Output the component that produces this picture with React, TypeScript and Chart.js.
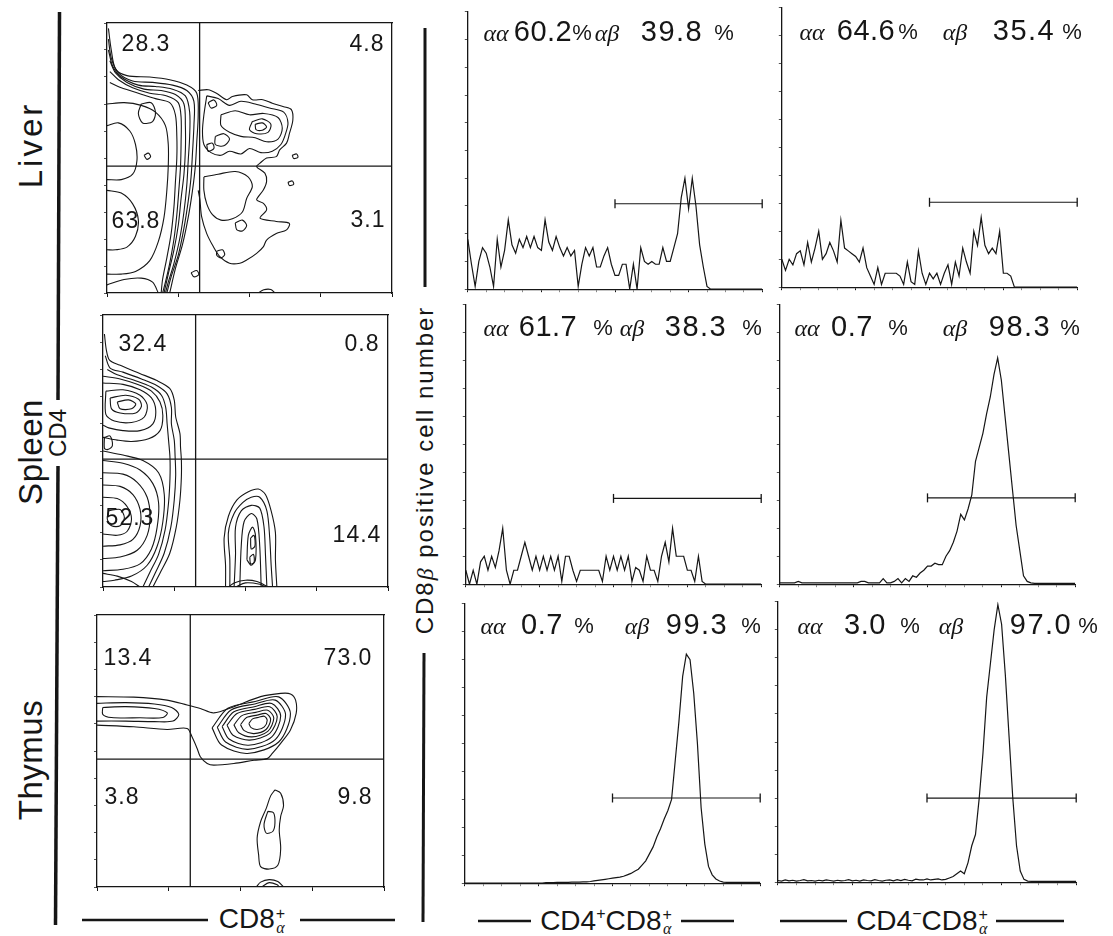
import React, { useEffect, useRef } from "react";
import { Chart, registerables } from "chart.js";

Chart.register(...registerables);

// ---------------- DATA ----------------
// histogram channels (log-decade position of each bin, 0..4)
const channelX: number[] = Array.from({ length: 81 }, (_, i) => Math.round(i * 5) / 100);

const liverCD4posHist = [
  18, 9, 1, 10, 15, 13, 8, 1, 18, 8, 14, 25, 16, 13, 18, 15, 19, 15, 19, 15,
  14, 25, 17, 14, 19, 15, 12, 15, 12, 14, 1, 9, 15, 12, 15, 8, 8, 12, 15, 9,
  5, 5, 9, 9, 0, 9, 0, 15, 10, 9, 10, 9, 9, 15, 10, 10, 15, 20, 33, 40,
  29, 40, 30, 16, 8, 1, 0, 0, 0, 0, 0, 0, 0, 0, 0, 0, 0, 0, 0, 0, 0,
];
const liverCD4negHist = [
  10, 6, 10, 8, 12, 13, 8, 16, 9, 14, 20, 10, 12, 16, 13, 9, 24, 14, 13, 12,
  11, 9, 14, 7, 4, 1, 7, 1, 5, 5, 5, 5, 4, 1, 9, 2, 1, 13, 5, 1,
  5, 3, 5, 1, 5, 8, 1, 9, 4, 14, 9, 5, 20, 15, 25, 15, 12, 14, 12, 20,
  5, 5, 4, 0, 0, 0, 0, 0, 0, 0, 0, 0, 0, 0, 0, 0, 0, 0, 0, 0, 0,
];
const spleenCD4posHist = [
  5, 0, 5, 0, 8, 10, 5, 10, 6, 12, 20, 5, 0, 5, 5, 10, 15, 10, 5, 10,
  5, 10, 5, 10, 5, 10, 1, 10, 10, 5, 1, 5, 5, 5, 5, 5, 5, 1, 10, 5,
  10, 5, 10, 5, 10, 1, 6, 5, 1, 10, 5, 5, 1, 10, 15, 8, 20, 10, 10, 10,
  5, 5, 1, 10, 1, 0, 0, 0, 0, 0, 0, 0, 0, 0, 0, 0, 0, 0, 0, 0, 0,
];
const spleenCD4negHist = [
  0.5, 0.5, 0.5, 0.5, 0.5, 1, 0.5, 0.5, 0.5, 0.5, 0.5, 0.5, 0.5, 0.5, 0.5, 0.5, 0.5, 0.5, 0.5, 0.5,
  0.5, 0.5, 1, 1, 0.5, 0.5, 0.5, 0.5, 2, 0.5, 0.5, 1, 2, 0.5, 2, 1, 3, 2.5, 4, 5,
  6.5, 6.5, 7.5, 7, 7, 10, 12, 15, 19, 25, 23, 27, 32, 44, 49, 54, 61, 67, 75, 81,
  73, 60, 47, 34, 21, 12, 3, 1, 0.5, 0.3, 0.3, 0.3, 0.3, 0.3, 0.3, 0.3, 0.3, 0.3, 0.3, 0.3, 0.3,
];
const thymusCD4posHist = [
  0, 0, 0, 0, 0, 0, 0, 0, 0, 0, 0, 0, 0, 0, 0, 0, 0, 0, 0, 0,
  0, 0, 0.2, 0.2, 0.2, 0.3, 0.3, 0.3, 0.3, 0.4, 0.4, 0.4, 0.5, 0.5, 0.6, 0.8, 1, 1.2, 1.4, 1.6,
  1.8, 2, 2.2, 2.5, 3, 3.5, 4.3, 5, 6.5, 8, 10.5, 13, 16.5, 19.5, 23, 26, 30, 44, 58, 74,
  82, 80, 68, 50, 27, 14, 6, 3, 1.5, 0.8, 0.4, 0.3, 0.3, 0.3, 0.3, 0.3, 0.3, 0.3, 0.3, 0.3, 0.3,
];
const thymusCD4negHist = [
  0.6, 0.4, 0.8, 0.5, 0.7, 0.4, 0.6, 0.9, 0.5, 0.6, 0.4, 0.7, 0.5, 0.8, 0.6, 0.4, 0.7, 0.5, 0.6, 0.9,
  0.5, 0.7, 0.4, 0.8, 0.6, 0.5, 0.9, 0.6, 0.4, 0.7, 0.8, 0.5, 0.9, 0.6, 1, 0.7, 0.5, 1.1, 0.8, 0.8,
  1.2, 0.8, 1, 1.2, 0.8, 1, 1.5, 2, 3, 4, 3, 7, 13, 17, 30, 46, 66, 78, 90, 99,
  92, 74, 52, 30, 13, 4, 1, 0.4, 0.3, 0.3, 0.3, 0.3, 0.3, 0.3, 0.3, 0.3, 0.3, 0.3, 0.3, 0.3, 0.3,
];

// alpha-beta gate (decades) and gate heights
const gateRange = [2, 4];
const gateHeights = [30.8, 30.4, 30.7, 30.9, 30.5, 30.0];

// percentages (order: liver +, liver -, spleen +, spleen -, thymus +, thymus -)
const aaPercents = ["60.2", "64.6", "61.7", "0.7", "0.7", "3.0"];
const abPercents = ["39.8", "35.4", "38.3", "98.3", "99.3", "97.0"];

// quadrant percentages: upper-left, upper-right, lower-left, lower-right
const rowLabels = ["Liver", "Spleen", "Thymus"];
const liverQuadrants = ["28.3", "4.8", "63.8", "3.1"];
const spleenQuadrants = ["32.4", "0.8", "52.3", "14.4"];
const thymusQuadrants = ["13.4", "73.0", "3.8", "9.8"];
const quadGate = [32.5, 47];

// contour lines (CD8α on x, CD4 on y, channel scale 0..100), flat x,y lists
const liverOpen = [
  [0.5, 98, 1.5, 90, 3, 83, 7, 80.5, 15, 80, 22, 79, 28, 77, 31.5, 74, 32, 66, 31.5, 56, 31, 47, 30, 38, 28.5, 28, 26.5, 18, 24, 9, 22, 0],
  [0.5, 94, 1.5, 87, 4, 81.5, 9, 78.5, 16, 78, 23, 77, 28, 75, 30.5, 71, 30.5, 62, 30, 52, 29.5, 43, 28.5, 34, 27, 24, 25, 14, 22.5, 6, 21, 0],
  [0.5, 90, 2, 84, 5, 80, 11, 77, 17, 76.5, 23, 75.5, 27.5, 73, 29, 67, 29, 58, 28.5, 49, 28, 40, 27, 30, 25.5, 20, 23.5, 11, 21.5, 4, 20.5, 0],
  [1, 86, 3, 81.5, 7, 78, 13, 75.5, 19, 75, 24, 73.5, 27, 70, 27.5, 62, 27.5, 53, 27, 44, 26, 35, 25, 25, 23.5, 16, 21.5, 7, 20, 0],
  [1, 82, 4, 79, 9, 76, 15, 74, 21, 73, 25, 70.5, 26, 65, 26, 56, 25.8, 47, 25.2, 38, 24.5, 29, 23.5, 20, 22, 11, 20.5, 4, 19.5, 0],
  [1, 78, 5, 76, 11, 74, 17, 72, 22, 70.5, 24, 66, 24.5, 58, 24.5, 50, 24, 41, 23.5, 32, 22.5, 22, 21, 13, 19.5, 5, 19, 0],
  [32, 75, 35.5, 75.3, 38.4, 74, 42, 71.6, 44, 72.8, 49, 73.4, 51, 71.6, 54.7, 71.6, 58, 70.3, 62, 69, 64.7, 67.9, 65.2, 64, 64, 59, 63, 55.5, 60.6, 53, 59.4, 50.5, 56, 50, 53.6, 48, 52.5, 46.8, 55.4, 44.4, 56, 41.3, 54.9, 38.2, 52.5, 34.5, 54.9, 33.2, 56, 30.8, 53.7, 27.7, 59.4, 26.5, 64, 25.8, 63, 23.4, 59.4, 22, 56, 19.6, 54.9, 17.2, 52.5, 14.7, 49, 12.2, 46.6, 11, 43, 11, 39.6, 13.5, 37.3, 17.2, 35, 22, 33.2, 28.3, 32.6, 34.5, 32, 38],
  [53, 0, 55, 1.2, 57.5, 1.3, 59, 0],
  [0, 70, 6, 70.5, 12, 69.5, 17, 67, 20.5, 62, 21.5, 55, 21.5, 47, 21, 38, 20, 28, 18, 19, 15, 12, 10, 8, 5, 7, 0, 7],
  [0, 62, 4, 63, 8, 60, 10, 55, 10.5, 49, 9, 44, 5, 42, 0, 42],
  [0, 38, 5, 37, 9, 33, 11, 27, 10, 21, 7, 17, 3, 16, 0, 16],
  [0, 3, 6, 5, 12, 5.5, 16, 4, 18, 0],
];
const liverClosed = [
  [35, 73, 39, 72, 43, 69.5, 47, 71, 52, 70, 57, 68.5, 62, 67, 63.5, 63, 62.5, 58.5, 61, 55, 58, 52.5, 54, 52, 50, 53.5, 47, 51.5, 43, 52.5, 40, 51, 36.5, 52, 34, 55, 33.5, 60, 34, 66],
  [40, 66, 45, 67.5, 50, 66, 55, 66.5, 60, 65, 61.5, 61, 60, 57, 56, 56, 52, 57.5, 47, 58, 43, 59.5, 40, 62],
  [51, 63.5, 54.5, 64.5, 57.5, 62.5, 56.5, 59.5, 52.5, 59, 50, 60.5],
  [52, 62.5, 54.5, 63, 56, 61.5, 54.5, 60.3, 52.3, 60.5],
  [38, 58, 41, 59, 43, 57, 41, 54.5, 38, 55],
  [35, 55, 37, 55.5, 37.5, 53.5, 35.5, 52.5],
  [34, 43, 39, 44, 45, 45, 49.5, 43, 51, 39.5, 49, 35, 47.5, 30, 44, 27.5, 40, 27, 37, 29, 35, 33, 34, 38],
  [45, 26, 47.5, 27, 49, 25, 47.5, 23, 45.5, 23.5],
  [38.5, 15.5, 40.5, 16, 41.3, 14.2, 40, 13, 38.5, 14],
  [63.5, 41, 65, 41.5, 65.5, 40.3, 64, 39.8],
  [65, 51, 66.5, 51.5, 67, 50.3, 65.5, 49.8],
  [29.5, 7.5, 31.5, 8.3, 32.2, 6.8, 30.5, 6],
  [35.5, 70.5, 37.5, 71.5, 38.5, 69.5, 36.5, 68.5],
  [12, 70, 15.5, 70.5, 17, 67, 16, 63.5, 12.5, 63, 11, 66.5],
  [13, 51, 14.5, 51.8, 15.3, 50.5, 14, 49.5],
];

const spleenOpen = [
  [0.5, 93, 1.2, 87, 2.3, 83.4, 5.8, 81.6, 12.9, 78.5, 18.7, 76, 23.4, 73, 25, 68.7, 25.5, 62.6, 27, 56.4, 27.2, 51.5, 27.5, 46.6, 27.5, 40.5, 27, 32, 25.7, 22, 23.4, 12.3, 19.9, 4.9, 17.5, 0],
  [0.8, 85, 2.5, 80.5, 7, 79, 13.5, 76.5, 19, 74, 22.5, 71, 24, 66, 24, 60, 25, 54, 25.3, 48, 25.5, 41, 25, 32, 23.8, 22, 21.5, 12.5, 18.5, 5.5, 16, 0],
  [1.5, 80, 5, 78, 11, 76, 17, 73.5, 20.5, 70.5, 22, 66, 22.5, 60, 23, 54, 23.5, 47.5, 23.5, 40, 23, 31, 21.8, 21, 19.5, 12, 16.5, 5.5, 14, 0],
  [0, 77.5, 6, 76.5, 12, 74.5, 17, 72, 20, 68, 21, 63, 20, 57.5, 16, 54.5, 10, 53.5, 5, 54, 0, 55],
  [0, 75, 7, 74.5, 13, 72.5, 17, 69.5, 18.5, 65, 17.5, 60, 13, 57.5, 7, 57.5, 2, 58.5, 0, 59.5],
  [0, 50, 7, 48.5, 14, 46.5, 19.5, 42, 21.5, 34, 21, 24, 19, 15, 15.5, 8, 10, 4, 4, 2.5, 0, 2],
  [0, 46.5, 7, 45.5, 13, 43, 17.5, 38, 19.5, 31, 19, 22, 17, 14, 13, 8.5, 7, 6.5, 0, 6],
  [0, 42, 7, 41.5, 12, 38.5, 15.5, 33, 16.5, 26, 15.5, 19, 12, 13.5, 6, 11, 0, 10.5],
  [0, 37.5, 6, 37, 10.5, 34, 13, 28.5, 13, 22.5, 10.5, 17.5, 6, 15.5, 0, 15],
  [0, 33, 5, 32.5, 8.5, 29.5, 10, 25, 8.5, 20.5, 5, 19, 0, 19.5],
  [0, 5, 5, 4, 10, 2, 13, 0],
  [43, 0, 43, 8, 42.5, 18, 44, 26, 47, 32, 51, 35, 54.5, 36, 57, 34, 59, 28, 60.5, 20, 60.5, 10, 61, 0],
  [44.5, 0, 44.5, 10, 44, 20, 46, 27, 49, 31, 52, 33, 55, 33, 57.5, 28, 58.5, 18, 59, 8, 59.5, 0],
  [46, 0, 46.5, 12, 46.5, 22, 48.5, 28, 52, 30, 55, 29, 56.5, 22, 57, 12, 57.5, 0],
  [48, 0, 48.5, 15, 49.5, 24, 52, 27, 54, 25, 55, 15, 55.5, 0],
  [44, 0, 46, 1.5, 50, 2.5, 54, 2, 58, 0],
  [46.5, 0, 50, 1.5, 55, 1, 57, 0],
];
const spleenClosed = [
  [1, 72, 7, 72.5, 13, 70.5, 15.5, 67, 14.5, 62.5, 10, 60.5, 4, 61, 1, 63.5],
  [2.5, 69.5, 8, 70.5, 12.5, 69, 13.5, 66.5, 11.5, 64, 6, 64, 3, 65.5],
  [5, 68, 9, 68.8, 11.5, 67.3, 10, 65.5, 6, 65.5],
  [0.5, 55, 2.5, 55.5, 3.3, 52, 1.5, 50.5, 0.5, 51],
  [2, 28, 6, 28.5, 7.5, 25.5, 6, 22.5, 3, 22.5, 1.5, 25],
  [50.5, 10, 51, 19, 52.5, 22, 53.5, 19, 53.5, 10, 52, 8],
  [51.8, 18, 53, 19, 53.3, 15, 52, 14],
  [51.5, 11, 52.8, 12, 53, 9, 51.8, 8.5],
];

const thymusOpen = [
  [0, 70, 12.8, 69.8, 24.4, 68.7, 31.4, 66.9, 36, 65.6, 40.7, 64, 47.7, 66.3, 57, 70, 64, 71.2, 67.4, 71, 69.2, 68.7, 69.4, 63.8, 67.4, 57.7, 64, 52.8, 61, 49, 59.3, 47.2, 54.7, 46.6, 47.7, 45.4, 40.7, 44.8, 38.4, 45.4, 36, 47.9, 34.9, 50.9, 33.1, 55.2, 31.4, 58.3, 24.4, 57.9, 12.8, 58.9, 0, 59.5],
  [0, 67.5, 10, 67.8, 20, 67.3, 26, 66, 28.5, 63.5, 26.5, 61, 20, 60.8, 10, 61, 0, 61],
  [55.5, 0, 57, 1.8, 60, 2.7, 63, 2, 65, 0],
  [57.3, 0, 60, 1.6, 62.8, 0.8, 63.5, 0],
];
const thymusClosed = [
  [2, 66, 10, 66.3, 20, 65.6, 24.5, 64, 23, 62.3, 15, 62.2, 5, 62.3, 2, 63.5],
  [40.1, 58.5, 43.4, 52.2, 52.4, 49.1, 63.3, 53.3, 67.4, 63.7, 63.3, 69.9, 55.1, 68.2, 45.6, 65.7],
  [41.9, 58.7, 44.8, 53.3, 52.6, 50.6, 62.1, 54.2, 65.7, 63.3, 62.1, 68.7, 55, 67.3, 46.7, 65.1],
  [43.6, 59, 46, 54.4, 52.8, 52.1, 60.9, 55.2, 64, 62.9, 60.9, 67.5, 54.8, 66.3, 47.7, 64.4],
  [45.3, 59.5, 47.4, 55.8, 53.2, 54, 60.2, 56.5, 62.8, 62.6, 60.2, 66.3, 54.9, 65.3, 48.8, 63.8],
  [47.7, 59.6, 49.4, 56.7, 54, 55.2, 59.5, 57.2, 61.6, 62.1, 59.5, 65, 55.3, 64.2, 50.5, 63],
  [50, 59.7, 51.3, 57.5, 54.7, 56.4, 58.9, 57.9, 60.5, 61.6, 58.9, 63.8, 55.8, 63.2, 52.1, 62.3],
  [52.9, 60.1, 53.7, 58.6, 55.8, 57.9, 58.3, 58.9, 59.3, 61.3, 58.3, 62.8, 56.4, 62.4, 54.2, 61.8],
  [62, 35.7, 64, 34.5, 65, 30, 64, 26, 63.5, 21, 64, 14, 63, 8, 60, 6.6, 57, 7.5, 56.3, 12, 55.8, 18, 57, 24, 59, 29, 60.5, 33.5],
  [59.5, 27.8, 61.5, 27.3, 62, 23.5, 61.3, 20.5, 59, 19.8, 58.2, 23],
];

// ---------------- STYLE / LAYOUT ----------------
const INK = "#161616";
const SANS = '"Liberation Sans", Arial, Helvetica, sans-serif';
const SERIF = '"Liberation Serif", "DejaVu Serif", serif';

type Box = { l: number; t: number; w: number; h: number };

const contourBoxes: Box[] = [
  { l: 107, t: 23, w: 285, h: 270 },
  { l: 103, t: 315, w: 285, h: 272 },
  { l: 97, t: 615, w: 287, h: 272 },
];
const histBoxes: Box[] = [
  { l: 465, t: 10, w: 298, h: 282 },
  { l: 779, t: 6, w: 299, h: 284 },
  { l: 463, t: 303, w: 299, h: 284 },
  { l: 777, t: 303, w: 299, h: 284 },
  { l: 462, t: 602, w: 299, h: 284 },
  { l: 775, t: 600, w: 302, h: 285 },
];
const annX = [
  [496, 543, 582, 607, 672, 724],
  [812, 866, 908, 955, 1024, 1072],
  [496, 548, 603, 632, 696, 752],
  [807, 852, 898, 955, 1020, 1070],
  [493, 542, 584, 637, 697, 751],
  [810, 865, 910, 951, 1041, 1088],
];
const annY = [31, 30, 326, 326, 624, 624];
const quadPos = [
  [[146, 43], [367, 43], [136, 220], [368, 219]],
  [[143, 343], [362, 343], [130, 517], [357, 534]],
  [[128, 657], [348, 657], [122, 796], [355, 796]],
];
const rowLabelY = [145, 452, 760];

// ---------------- CHART CONFIGS ----------------
function pts(flat: number[], closed: boolean) {
  const out: { x: number; y: number }[] = [];
  for (let i = 0; i + 1 < flat.length; i += 2) out.push({ x: flat[i], y: flat[i + 1] });
  if (closed && out.length) out.push({ x: out[0].x, y: out[0].y });
  return out;
}

function contourConfig(open: number[][], closed: number[][]): any {
  const line = (data: any[]) => ({
    data,
    showLine: true,
    borderColor: INK,
    borderWidth: 1.1,
    pointRadius: 0,
    tension: 0.3,
    fill: false,
  });
  const datasets: any[] = [
    ...open.map((c) => line(pts(c, false))),
    ...closed.map((c) => line(pts(c, true))),
    { data: [{ x: quadGate[0], y: 0 }, { x: quadGate[0], y: 100 }], showLine: true, borderColor: INK, borderWidth: 1.3, pointRadius: 0 },
    { data: [{ x: 0, y: quadGate[1] }, { x: 100, y: quadGate[1] }], showLine: true, borderColor: INK, borderWidth: 1.3, pointRadius: 0 },
  ];
  const frame = (pos: string) => ({
    type: "linear",
    position: pos,
    display: true,
    min: 0,
    max: 100,
    ticks: { display: false },
    grid: { drawOnChartArea: false, drawTicks: false },
    border: { display: true, color: INK, width: 1.3 },
  });
  return {
    type: "scatter",
    data: { datasets },
    options: {
      animation: false,
      responsive: false,
      devicePixelRatio: 1,
      events: [],
      layout: { padding: { top: 1, right: 1 } },
      plugins: { legend: { display: false }, tooltip: { enabled: false } },
      scales: {
        x: {
          type: "linear", position: "bottom", min: 0, max: 100,
          ticks: { display: false, stepSize: 25 },
          grid: { drawOnChartArea: false, tickLength: 4, color: INK },
          border: { color: INK, width: 1.3 },
        },
        y: {
          type: "linear", position: "left", min: 0, max: 100,
          ticks: { display: false, stepSize: 10 },
          grid: { drawOnChartArea: false, tickLength: 3, color: "#555" },
          border: { color: INK, width: 1.3 },
        },
        x2: frame("top"),
        y2: frame("right"),
      },
    },
  };
}

function histConfig(values: number[], gateY: number): any {
  return {
    type: "line",
    data: {
      datasets: [
        {
          data: values.map((v, i) => ({ x: channelX[i], y: v })),
          borderColor: INK, borderWidth: 1.2, pointRadius: 0, tension: 0, fill: false,
        },
        {
          data: [{ x: gateRange[0], y: gateY }, { x: gateRange[1], y: gateY }],
          borderColor: INK, borderWidth: 1.1,
          pointStyle: "line", pointRadius: 4.5, pointRotation: 90,
          pointBorderWidth: 1.3, pointBorderColor: INK, pointBackgroundColor: INK,
          clip: false,
        },
      ],
    },
    options: {
      animation: false,
      responsive: false,
      devicePixelRatio: 1,
      events: [],
      layout: { padding: { top: 4, right: 5 } },
      plugins: { legend: { display: false }, tooltip: { enabled: false } },
      scales: {
        x: {
          type: "linear", min: 0, max: 4,
          ticks: { display: false, stepSize: 0.25 },
          grid: {
            drawOnChartArea: false, tickLength: 3,
            color: (ctx: any) => (ctx.tick && Number.isInteger(ctx.tick.value) ? INK : "#888"),
          },
          border: { color: INK, width: 1.3 },
        },
        y: {
          type: "linear", min: 0, max: 100,
          ticks: { display: false, stepSize: 10 },
          grid: { drawOnChartArea: false, tickLength: 3, color: "#555" },
          border: { color: INK, width: 1.3 },
        },
      },
    },
  };
}

// ---------------- COMPONENTS ----------------
function ChartCanvas({ left, top, width, height, make }: any) {
  const ref = useRef<HTMLCanvasElement | null>(null);
  useEffect(() => {
    if (!ref.current) return;
    const chart = new Chart(ref.current, make());
    return () => chart.destroy();
  }, []);
  return (
    <canvas
      ref={ref}
      width={width}
      height={height}
      style={{ position: "absolute", left, top, width, height }}
    />
  );
}

function Txt({ x, y, size, family = SANS, italic = false, rotate = 0, spacing = 0, children }: any) {
  return (
    <div
      style={{
        position: "absolute",
        left: x,
        top: y,
        transform: `translate(-50%, -50%) rotate(${rotate}deg)`,
        fontSize: size,
        fontFamily: family,
        fontStyle: italic ? "italic" : "normal",
        letterSpacing: spacing,
        whiteSpace: "nowrap",
        lineHeight: 1,
        color: INK,
      }}
    >
      {children}
    </div>
  );
}

function AlphaPlus({ size }: any) {
  return (
    <span
      style={{
        display: "inline-flex",
        flexDirection: "column",
        alignItems: "center",
        fontSize: size,
        lineHeight: 0.85,
        verticalAlign: "middle",
        marginLeft: 1,
      }}
    >
      <span>+</span>
      <span style={{ fontFamily: SERIF, fontStyle: "italic" }}>α</span>
    </span>
  );
}

const hists = [liverCD4posHist, liverCD4negHist, spleenCD4posHist, spleenCD4negHist, thymusCD4posHist, thymusCD4negHist];
const contours = [
  [liverOpen, liverClosed],
  [spleenOpen, spleenClosed],
  [thymusOpen, thymusClosed],
];
const quads = [liverQuadrants, spleenQuadrants, thymusQuadrants];

export default function App() {
  return (
    <div
      style={{
        position: "absolute",
        left: 0,
        top: 0,
        width: 1113,
        height: 936,
        background: "#ffffff",
        overflow: "hidden",
        fontFamily: SANS,
      }}
    >
      <svg width={1113} height={936} style={{ position: "absolute", left: 0, top: 0 }}>
        <g stroke={INK} strokeLinecap="butt">
          <line x1={59.5} y1={12} x2={58} y2={400} strokeWidth={3.5} />
          <line x1={58} y1={466} x2={55.5} y2={925} strokeWidth={3.5} />
          <line x1={425} y1={28} x2={425} y2={287} strokeWidth={3} />
          <line x1={424} y1={653} x2={423} y2={922} strokeWidth={3} />
          <line x1={82} y1={920} x2={208} y2={920} strokeWidth={2.5} />
          <line x1={300} y1={920} x2={395} y2={920} strokeWidth={2.5} />
          <line x1={478} y1={921} x2={531} y2={921} strokeWidth={2.5} />
          <line x1={681} y1={921} x2={734} y2={921} strokeWidth={2.5} />
          <line x1={780} y1={921} x2={847} y2={921} strokeWidth={2.5} />
          <line x1={996} y1={921} x2={1064} y2={921} strokeWidth={2.5} />
        </g>
      </svg>

      {contours.map(([o, c], i) => {
        const b = contourBoxes[i];
        return (
          <ChartCanvas
            key={"c" + i}
            left={b.l - 3}
            top={b.t - 1}
            width={b.w + 4}
            height={b.h + 5}
            make={() => contourConfig(o as number[][], c as number[][])}
          />
        );
      })}

      {hists.map((h, i) => {
        const b = histBoxes[i];
        return (
          <ChartCanvas
            key={"h" + i}
            left={b.l - 3}
            top={b.t - 4}
            width={b.w + 8}
            height={b.h + 7}
            make={() => histConfig(h, gateHeights[i])}
          />
        );
      })}

      {rowLabels.map((r, i) => (
        <Txt key={r} x={30} y={rowLabelY[i]} size={33} rotate={-90} spacing={i === 0 ? 3 : 0.5}>
          {r}
        </Txt>
      ))}

      <Txt x={58} y={433} size={24} rotate={-90}>CD4</Txt>

      <Txt x={425} y={470} size={24} rotate={-90} spacing={2}>
        CD8<span style={{ fontFamily: SERIF, fontStyle: "italic" }}>β</span> positive cell number
      </Txt>

      <Txt x={252} y={920} size={28}>
        CD8<AlphaPlus size={16} />
      </Txt>
      <Txt x={606} y={921} size={28}>
        CD4<sup style={{ fontSize: 16 }}>+</sup>CD8<AlphaPlus size={16} />
      </Txt>
      <Txt x={922} y={921} size={28}>
        CD4<sup style={{ fontSize: 16 }}>−</sup>CD8<AlphaPlus size={16} />
      </Txt>

      {quads.map((q, i) =>
        q.map((v, j) => (
          <Txt key={`q${i}${j}`} x={quadPos[i][j][0]} y={quadPos[i][j][1]} size={23} spacing={1}>
            {v}
          </Txt>
        ))
      )}

      {hists.map((_, i) => {
        const xs = annX[i];
        const y = annY[i];
        return (
          <React.Fragment key={"a" + i}>
            <Txt x={xs[0]} y={y + 2} size={24} family={SERIF} italic>αα</Txt>
            <Txt x={xs[1]} y={y} size={29} spacing={0.5}>{aaPercents[i]}</Txt>
            <Txt x={xs[2]} y={y + 2} size={22}>%</Txt>
            <Txt x={xs[3]} y={y + 2} size={24} family={SERIF} italic>αβ</Txt>
            <Txt x={xs[4]} y={y} size={29} spacing={1.5}>{abPercents[i]}</Txt>
            <Txt x={xs[5]} y={y + 2} size={22}>%</Txt>
          </React.Fragment>
        );
      })}
    </div>
  );
}
